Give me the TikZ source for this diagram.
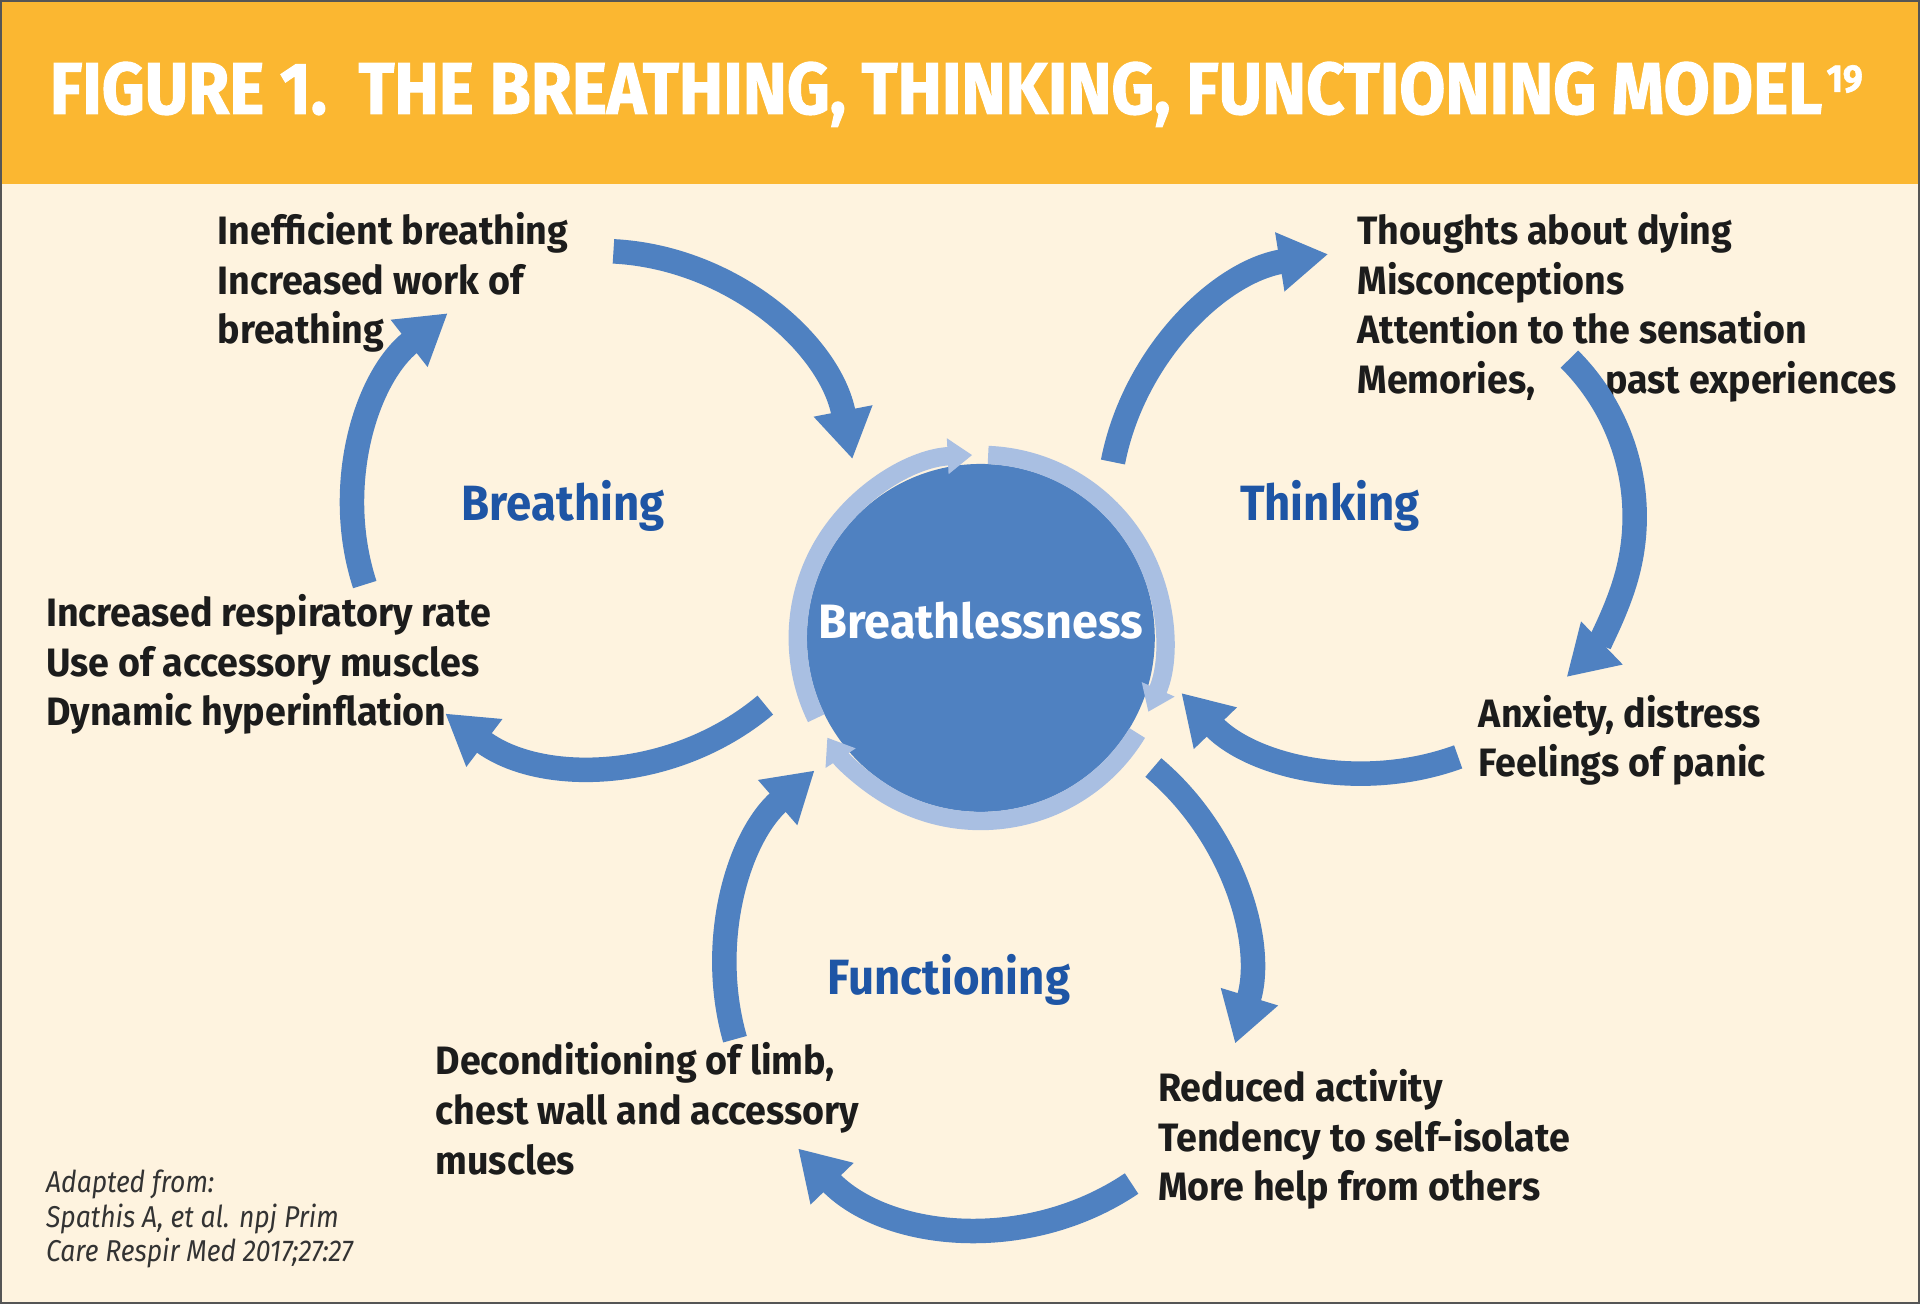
\documentclass[tikz,border=0pt]{standalone}
\usepackage{fontspec}
\setmainfont{Fira Sans}
\newfontfamily\condfont{Fira Sans}[FakeStretch=0.95]
\newfontfamily\srcfont{Fira Sans}[FakeStretch=0.88]
\newfontfamily\labelfont{Fira Sans}[FakeStretch=0.92]
\newfontfamily\corefont{Fira Sans}[FakeStretch=0.97]
\newfontfamily\headfont{Fira Sans}[FakeStretch=0.91,BoldFeatures={FakeBold=1.5}]
\usepackage{xcolor}
\usetikzlibrary{arrows.meta}
\definecolor{headorange}{HTML}{FBB731}
\definecolor{paper}{HTML}{FEF3DF}
\definecolor{cycblue}{HTML}{4F81C1}
\definecolor{ringblue}{HTML}{A9BFE2}
\definecolor{lblblue}{HTML}{1E55A5}
\definecolor{ink}{HTML}{1C1C1C}
\definecolor{framegray}{HTML}{555555}

\begin{document}
\begin{tikzpicture}[
    x=0.01cm, y=0.01cm,
    cyc/.style={line width=0.2cm, draw=cycblue, -{Triangle[length=0.40cm,width=0.46cm]}},
    ring/.style={line width=0.15cm, draw=ringblue, -{Triangle[length=0.2cm,width=0.28cm]}},
    txt/.style={anchor=north west, inner sep=0pt, align=left, text=ink,
        font=\condfont\bfseries\fontsize{9.2}{11.5}\selectfont},
    src/.style={anchor=north west, inner sep=0pt, align=left, text=ink!90,
        font=\srcfont\itshape\fontsize{7}{8}\selectfont},
    lbl/.style={inner sep=0pt, text=lblblue, font=\labelfont\bfseries\fontsize{11.5}{13}\selectfont}
]

% ---------------- Frame and header ----------------
\useasboundingbox (0,0) rectangle (1568,1065);
\fill[paper] (0,0) rectangle (1568,1065);
\fill[headorange] (0,915) rectangle (1568,1065);
\draw[framegray, line width=0.02cm] (1,1) rectangle (1567,1064);
\node[anchor=base west, inner sep=0pt, text=white,
      font=\headfont\bfseries\fontsize{17}{20}\selectfont] (title) at (40,972)
      {FIGURE 1.\ \ THE BREATHING, THINKING, FUNCTIONING MODEL\kern1pt\raisebox{5.1pt}{\fontsize{9}{9}\selectfont 19}};

% ---------------- Centre ----------------
\node[circle, fill=cycblue, minimum size=2.84cm, inner sep=0pt] (core) at (801,544) {};
\node[text=white, inner sep=0pt, font=\corefont\bfseries\fontsize{11.2}{13}\selectfont]
      (coretxt) at ([yshift=0.14cm]core.center) {Breathlessness};

\draw[ring] (core.center) ++(206:149.5) arc[start angle=206, end angle=92.7, radius=149.5];
\draw[ring] (core.center) ++(87.7:149.5) arc[start angle=87.7, end angle=-23.8, radius=149.5];
\draw[ring] (core.center) ++(-31.3:149.5) arc[start angle=-31.3, end angle=-147, radius=149.5];

% ---------------- Cycle centres ----------------
\coordinate (bcyc) at (490,650);
\coordinate (tcyc) at (1118,647);
\coordinate (tright) at (1153,643);
\coordinate (fcyc) at (805,275);

% ---------------- Texts ----------------
\node[txt] (ineff) at (177,892) {Inefficient breathing\\Increased work of\\breathing};
\node[txt] (resp) at (37,580) {Increased respiratory rate\\Use of accessory muscles\\Dynamic hyperinflation};
\node[txt] (thoughts) at (1108,892) {Thoughts about dying\\Misconceptions\\Attention to the sensation\\\makebox[2.02cm][l]{Memories,}past experiences};
\node[txt] (anx) at (1207,498) {Anxiety, distress\\Feelings of panic};
\node[txt] (reduced) at (945,192) {Reduced activity\\Tendency to self-isolate\\More help from others};
\node[txt] (decond) at (355,214) {Deconditioning of limb,\\chest wall and accessory\\muscles};
\node[src] (source) at (37,110) {Adapted from:\\Spathis A, et al. npj Prim\\Care Respir Med 2017;27:27};

\node[lbl] (lblB) at (460,652) {Breathing};
\node[lbl] (lblT) at (1086,652) {Thinking};
\node[lbl] (lblF) at (775,265) {Functioning};

% ---------------- Breathing cycle ----------------
\draw[cyc] (bcyc) ++(87:210) arc[start angle=87, end angle=11, radius=210];
\draw[cyc] (bcyc) ++(198:202) arc[start angle=198, end angle=128, radius=202];
\draw[cyc] (bcyc) ++(-50:210) arc[start angle=-50, end angle=-127, radius=210];

% ---------------- Thinking cycle ----------------
\draw[cyc] (tcyc) ++(169:213) arc[start angle=169, end angle=99, radius=213];
\draw[cyc] (tright) ++(45:182) arc[start angle=45, end angle=-46, radius=182];
\draw[cyc] (tcyc) ++(-70:213) arc[start angle=-70, end angle=-136, radius=213];

% ---------------- Functioning cycle ----------------
\draw[cyc] (fcyc) ++(50:213) arc[start angle=50, end angle=-17, radius=213];
\draw[cyc] (fcyc) ++(-56:213) arc[start angle=-56, end angle=-136, radius=213];
\draw[cyc] (fcyc) ++(196:213) arc[start angle=196, end angle=131, radius=213];

\end{tikzpicture}
\end{document}
